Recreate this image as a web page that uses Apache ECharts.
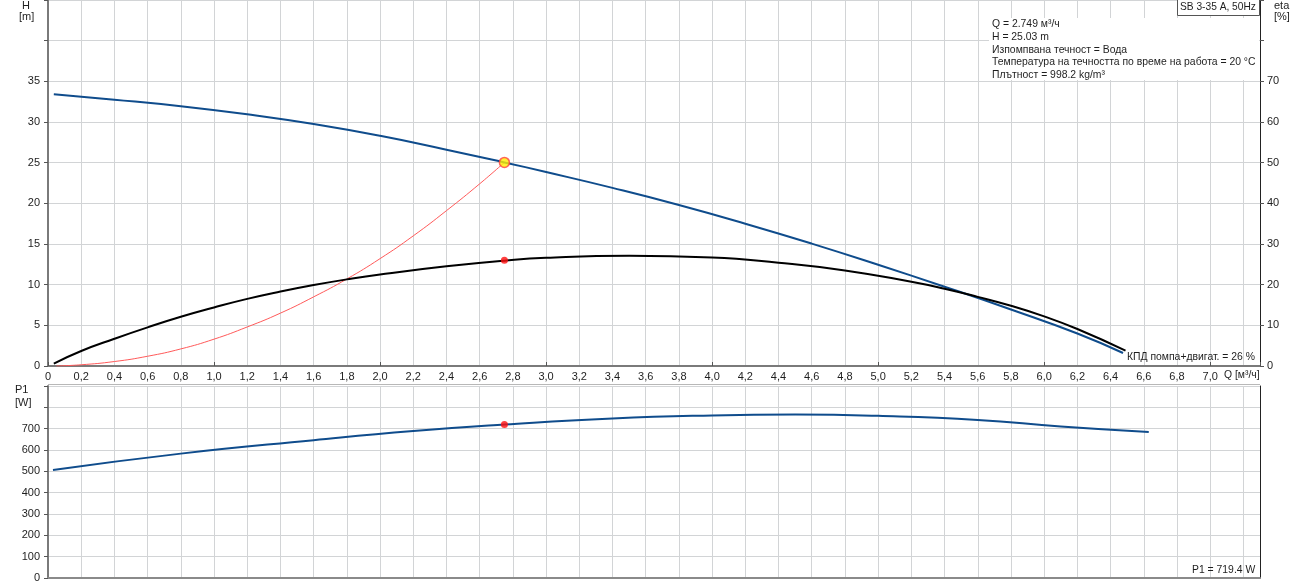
<!DOCTYPE html>
<html><head><meta charset="utf-8">
<script src="https://cdn.jsdelivr.net/npm/echarts@6/dist/echarts.min.js"></script>
<style>html,body{margin:0;padding:0;background:#fff}#c{width:1303px;height:587px}</style>
</head><body><div id="c"></div>
<script>
// Head curve H [m] vs Q [m3/h]
const hQ = [0.035, 0.4, 0.8, 1.2, 1.6, 2.0, 2.4, 2.749, 3.0, 3.4, 3.8, 4.2, 4.6, 5.0, 5.4, 5.8, 6.2, 6.475];
const hVal = [33.4, 32.75, 31.95, 30.95, 29.75, 28.3, 26.6, 25.03, 23.85, 21.9, 19.8, 17.5, 15.05, 12.45, 9.75, 6.95, 4.0, 1.6];
// Efficiency eta [%]
const etaQ = [0.035, 0.2, 0.4, 0.6, 0.8, 1.0, 1.2, 1.4, 1.6, 1.8, 2.0, 2.4, 2.749, 3.0, 3.5, 4.0, 4.4, 4.8, 5.2, 5.4, 5.6, 5.8, 6.0, 6.2, 6.49];
const etaVal = [0.6, 3.7, 6.7, 9.5, 12.1, 14.4, 16.5, 18.3, 19.9, 21.3, 22.5, 24.5, 25.9, 26.6, 27.1, 26.7, 25.4, 23.5, 20.7, 19.0, 17.0, 14.8, 12.2, 9.1, 3.8];
// System (load) curve
const sysQ = [0.05, 0.2, 0.4, 0.6, 0.8, 1.0, 1.2, 1.4, 1.6, 1.8, 2.0, 2.2, 2.4, 2.6, 2.749];
const sysH = [0.0, 0.15, 0.55, 1.2, 2.1, 3.3, 4.8, 6.5, 8.5, 10.7, 13.2, 16.0, 19.1, 22.4, 25.03];
// Power P1 [W]
const pQ = [0.03, 0.8, 1.6, 2.2, 2.749, 3.4, 4.0, 4.5, 5.0, 5.6, 6.1, 6.63];
const pVal = [506, 583, 646, 689, 719.4, 748, 762, 766, 760, 741, 710, 684];
// Duty point
const dutyQ = 2.749, dutyH = 25.03, dutyEta = 26, dutyP = 719.4;
const infoLines = ['Q = 2.749 м³/ч', 'H = 25.03 m', 'Изпомпвана течност = Вода', 'Температура на течността по време на работа = 20 °C', 'Плътност = 998.2 kg/m³'];

const zip = (a, b) => a.map((v, i) => [v, b[i]]);
const FONT = 'Liberation Sans, Arial, sans-serif';
const TXT = '#1e1e1e';
const GRIDC = '#d2d4d6';
const TF = '10.4px ' + FONT;
const qFmt = v => (v > 7.05 ? '' : (v === 0 ? '0' : v.toFixed(1).replace('.', ',')));

const chart = echarts.init(document.getElementById('c'), null, {renderer: 'canvas'});
const L = 48, R = 1303 - 1260;
const graphic = [
  {type: 'text', left: 22, top: 0, style: {text: 'H', font: '11px ' + FONT, fill: TXT}},
  {type: 'text', left: 19, top: 11, style: {text: '[m]', font: '11px ' + FONT, fill: TXT}},
  {type: 'text', left: 1274, top: 0, style: {text: 'eta', font: '11px ' + FONT, fill: TXT}},
  {type: 'text', left: 1274, top: 11, style: {text: '[%]', font: '11px ' + FONT, fill: TXT}},
  {type: 'text', left: 15, top: 384, style: {text: 'P1', font: '11px ' + FONT, fill: TXT}},
  {type: 'text', left: 15, top: 397, style: {text: '[W]', font: '11px ' + FONT, fill: TXT}},
  {type: 'text', left: 1224, top: 370, style: {text: 'Q [м³/ч]', font: TF, fill: TXT}},
  {type: 'rect', shape: {x: 989, y: 18, width: 270, height: 62}, style: {fill: '#fff'}, z: 10},
  {type: 'rect', shape: {x: 1177.5, y: -1, width: 82, height: 16.5}, style: {fill: '#fff', stroke: '#555', lineWidth: 1}, z: 10},
  {type: 'text', left: 1180, top: 2, z: 11, style: {text: 'SB 3-35 A, 50Hz', font: '10.2px ' + FONT, fill: TXT}},
  {type: 'text', left: 1127, top: 352, z: 11, style: {text: 'КПД помпа+двигат. = 26 %', font: TF, fill: TXT}},
  {type: 'text', left: 1192, top: 565, z: 11, style: {text: 'P1 = 719.4 W', font: TF, fill: TXT}},
  {type: 'line', shape: {x1: 48, y1: 384.5, x2: 1260, y2: 384.5}, style: {stroke: '#b8b8b8', lineWidth: 1}, z: 5}
];
infoLines.forEach((t, i) => graphic.push({type: 'text', left: 992, top: 19.5 + i * 12.7, z: 11, style: {text: t, font: TF, fill: TXT}}));

const valAxisBase = {
  type: 'value', interval: 0.2, min: 0, max: 7.3,
  splitLine: {show: true, lineStyle: {color: GRIDC, width: 1}},
  axisTick: {show: false}
};
chart.setOption({
  animation: false,
  backgroundColor: '#fff',
  grid: [
    {left: L, right: R, top: 0, height: 366},
    {left: L, right: R, top: 386, height: 192}
  ],
  xAxis: [
    Object.assign({}, valAxisBase, {gridIndex: 0,
      axisLine: {show: true, onZero: false, lineStyle: {color: '#7a7a7a', width: 2}},
      axisLabel: {formatter: qFmt, fontSize: 11, fontFamily: FONT, color: TXT, margin: 5, showMaxLabel: true}}),
    Object.assign({}, valAxisBase, {gridIndex: 1,
      axisLine: {show: true, onZero: false, lineStyle: {color: '#8a8a8a', width: 2}},
      axisLabel: {show: false}}),
    {type: 'value', gridIndex: 0, min: 0, max: 7.3, interval: 1, splitLine: {show: false}, axisLine: {show: false},
      axisLabel: {show: false}, axisTick: {show: true, length: 4, lineStyle: {color: '#555'}}}
  ],
  yAxis: [
    {type: 'value', gridIndex: 0, min: 0, max: 45, interval: 5,
      splitLine: {show: true, lineStyle: {color: GRIDC, width: 1}},
      axisLine: {show: true, onZero: false, lineStyle: {color: '#7a7a7a', width: 2}},
      axisTick: {show: true, length: 4, lineStyle: {color: '#555', width: 1}},
      axisLabel: {formatter: v => (v > 35 ? '' : String(v)), fontSize: 11, fontFamily: FONT, color: TXT, margin: 8}},
    {type: 'value', gridIndex: 0, position: 'right', min: 0, max: 90, interval: 10,
      splitLine: {show: false},
      axisLine: {show: true, onZero: false, lineStyle: {color: '#222', width: 1}},
      axisTick: {show: true, length: 4, lineStyle: {color: '#555', width: 1}},
      axisLabel: {formatter: v => (v > 70 ? '' : String(v)), fontSize: 11, fontFamily: FONT, color: TXT, margin: 7}},
    {type: 'value', gridIndex: 1, min: 0, max: 900, interval: 100,
      splitLine: {show: true, lineStyle: {color: GRIDC, width: 1}},
      axisLine: {show: true, onZero: false, lineStyle: {color: '#7a7a7a', width: 2}},
      axisTick: {show: true, length: 4, lineStyle: {color: '#555', width: 1}},
      axisLabel: {formatter: v => (v > 700 ? '' : String(v)), fontSize: 11, fontFamily: FONT, color: TXT, margin: 8}},
    {type: 'value', gridIndex: 1, position: 'right', min: 0, max: 900, interval: 100,
      splitLine: {show: false}, axisTick: {show: false}, axisLabel: {show: false},
      axisLine: {show: true, onZero: false, lineStyle: {color: '#222', width: 1}}}
  ],
  series: [
    {type: 'line', xAxisIndex: 0, yAxisIndex: 0, data: zip(sysQ, sysH), smooth: 0.5, showSymbol: false,
      lineStyle: {color: '#ff5a5a', width: 1}, z: 3},
    {type: 'line', xAxisIndex: 0, yAxisIndex: 0, data: zip(hQ, hVal), smooth: 0.5, showSymbol: false,
      lineStyle: {color: '#0f4c8c', width: 2}, z: 4},
    {type: 'line', xAxisIndex: 0, yAxisIndex: 1, data: zip(etaQ, etaVal), smooth: 0.5, showSymbol: false,
      lineStyle: {color: '#000', width: 2}, z: 4},
    {type: 'line', xAxisIndex: 1, yAxisIndex: 2, data: zip(pQ, pVal), smooth: 0.5, showSymbol: false,
      lineStyle: {color: '#0f4c8c', width: 2}, z: 4},
    {type: 'scatter', xAxisIndex: 0, yAxisIndex: 0, data: [[dutyQ, dutyH]], symbolSize: 10,
      itemStyle: {color: '#ffee00', borderColor: '#ff4040', borderWidth: 1.5}, z: 6},
    {type: 'scatter', xAxisIndex: 0, yAxisIndex: 1, data: [[dutyQ, dutyEta]], symbolSize: 7,
      itemStyle: {color: '#ff1010'}, z: 6},
    {type: 'scatter', xAxisIndex: 1, yAxisIndex: 2, data: [[dutyQ, dutyP]], symbolSize: 7,
      itemStyle: {color: '#ff1010'}, z: 6}
  ],
  graphic: graphic
});
</script></body></html>
